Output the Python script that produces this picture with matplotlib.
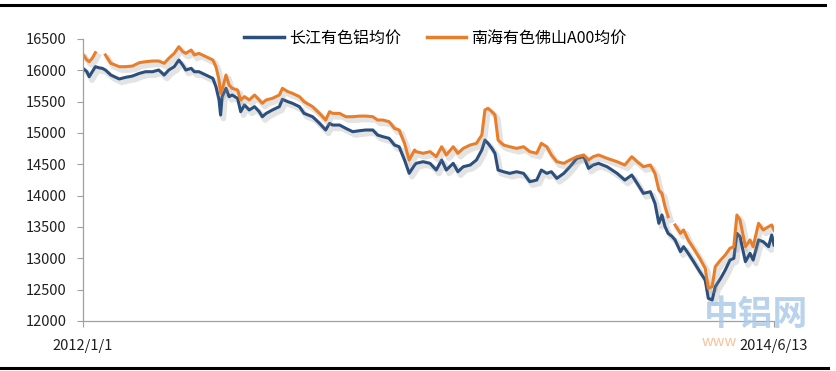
import matplotlib
matplotlib.use("Agg")
import matplotlib.pyplot as plt
import matplotlib.patheffects as pe
from matplotlib.lines import Line2D
import numpy as np
import pandas as pd

plt.rcParams['font.family'] = ['Noto Sans CJK SC', 'DejaVu Sans']

dates = [
    "2012-01-01", "2012-01-06", "2012-01-09", "2012-01-13", "2012-01-17", "2012-01-22", "2012-01-26",
    "2012-01-30", "2012-02-06", "2012-02-17", "2012-02-25", "2012-03-05", "2012-03-14", "2012-03-22",
    "2012-03-31", "2012-04-08", "2012-04-15", "2012-04-21", "2012-04-28", "2012-05-04", "2012-05-09",
    "2012-05-13", "2012-05-20", "2012-05-24", "2012-05-30", "2012-06-08", "2012-06-17", "2012-06-21",
    "2012-06-25", "2012-06-27", "2012-06-29", "2012-07-04", "2012-07-08", "2012-07-12", "2012-07-19",
    "2012-07-23", "2012-07-28", "2012-08-03", "2012-08-10", "2012-08-16", "2012-08-20", "2012-08-25",
    "2012-09-02", "2012-09-11", "2012-09-15", "2012-09-22", "2012-09-28", "2012-10-07", "2012-10-13",
    "2012-10-24", "2012-11-02", "2012-11-10", "2012-11-15", "2012-11-19", "2012-11-28", "2012-12-06",
    "2012-12-15", "2012-12-24", "2013-01-01", "2013-01-10", "2013-01-16", "2013-01-23", "2013-01-31",
    "2013-02-07", "2013-02-13", "2013-02-20", "2013-02-26", "2013-03-05", "2013-03-07", "2013-03-16",
    "2013-03-25", "2013-04-02", "2013-04-09", "2013-04-15", "2013-04-24", "2013-04-30", "2013-05-07",
    "2013-05-16", "2013-05-24", "2013-05-31", "2013-06-04", "2013-06-08", "2013-06-13", "2013-06-17",
    "2013-06-21", "2013-06-28", "2013-07-06", "2013-07-15", "2013-07-24", "2013-08-01", "2013-08-10",
    "2013-08-16", "2013-08-23", "2013-08-29", "2013-09-05", "2013-09-14", "2013-09-22", "2013-10-01",
    "2013-10-10", "2013-10-16", "2013-10-22", "2013-10-29", "2013-11-09", "2013-11-22", "2013-12-02",
    "2013-12-11", "2013-12-18", "2013-12-26", "2014-01-04", "2014-01-10", "2014-01-15", "2014-01-19",
    "2014-01-23", "2014-01-27", "2014-02-01", "2014-02-05", "2014-02-12", "2014-02-16", "2014-02-22",
    "2014-03-01", "2014-03-09", "2014-03-16", "2014-03-20", "2014-03-25", "2014-03-29", "2014-04-05",
    "2014-04-11", "2014-04-17", "2014-04-22", "2014-04-26", "2014-04-30", "2014-05-07", "2014-05-13",
    "2014-05-17", "2014-05-24", "2014-05-30", "2014-06-06", "2014-06-10", "2014-06-13",
]

changjiang = [
    16032, 15978, 15898, 15978, 16058, 16040, 16032,
    16005, 15925, 15862, 15888, 15909, 15952, 15978,
    15978, 16005, 15925, 16005, 16058, 16165, 16085,
    16005, 16032, 15978, 15978, 15925, 15872, 15739,
    15527, 15287, 15580, 15713, 15580, 15606, 15553,
    15340, 15447, 15367, 15420, 15340, 15260, 15313,
    15367, 15420, 15537, 15500, 15474, 15420, 15313,
    15260, 15154, 15048, 15154, 15127, 15127, 15074,
    15021, 15037, 15048, 15048, 14968, 14941, 14915,
    14808, 14781, 14569, 14357, 14489, 14516, 14542,
    14516, 14409, 14569, 14409, 14516, 14382, 14462,
    14489, 14569, 14729, 14888, 14835, 14755, 14676,
    14409, 14382, 14356, 14382, 14356, 14223, 14249,
    14409, 14356, 14382, 14276, 14356, 14462, 14596,
    14622, 14436, 14489, 14516, 14462, 14356, 14249,
    14329, 14196, 14037, 14063, 13878, 13559, 13692,
    13506, 13399, 13350, 13293, 13106, 13186, 13080,
    12947, 12787, 12654, 12362, 12335, 12548, 12681,
    12814, 12973, 13000, 13399, 13346, 12947, 13080,
    12973, 13293, 13266, 13186, 13373, 13213,
]

nanhai = [
    16256, 16165, 16138, 16192, 16282, np.nan, np.nan,
    16245, 16112, 16058, 16058, 16069, 16122, 16138,
    16149, 16149, 16112, 16192, 16271, 16377, 16298,
    16271, 16324, 16245, 16271, 16218, 16165, 16058,
    15846, 15633, 15686, 15925, 15766, 15713, 15686,
    15527, 15580, 15527, 15606, 15527, 15474, 15527,
    15553, 15606, 15713, 15660, 15633, 15580, 15500,
    15420, 15313, 15207, 15340, 15313, 15313, 15260,
    15260, 15270, 15270, 15260, 15207, 15207, 15181,
    15074, 15048, 14835, 14569, 14729, 14702, 14676,
    14702, 14622, 14781, 14649, 14781, 14676, 14755,
    14808, 14835, 14968, 15367, 15394, 15340, 15287,
    14888, 14808, 14781, 14755, 14781, 14702, 14676,
    14835, 14781, 14649, 14542, 14516, 14569, 14622,
    14649, 14569, 14622, 14649, 14596, 14542, 14489,
    14622, 14542, 14462, 14489, 14356, 14090, 14037,
    13824, 13665, np.nan, 13532, 13399, 13452, 13293,
    13160, 13000, 12841, 12522, 12548, 12867, 12974,
    13053, 13160, 13186, 13691, 13612, 13186, 13293,
    13186, 13559, 13452, 13506, 13532, 13452,
]

series_names = ["长江有色铝均价", "南海有色佛山A00均价"]
series_colors = ["#2C4F7C", "#E97E2A"]
x_tick_labels = ["2012/1/1", "2014/6/13"]
y_ticks = [12000, 12500, 13000, 13500, 14000, 14500, 15000, 15500, 16000, 16500]

x = pd.to_datetime(dates)

fig = plt.figure(figsize=(8.37, 3.71), dpi=100)
ax = fig.add_axes([83 / 837, 1 - 321 / 371, (774 - 83) / 837, (321 - 39) / 371])

shadow = [pe.SimpleLineShadow(offset=(2.0, -2.5), shadow_color="#909090", alpha=0.25, linewidth=4),
          pe.Normal()]
for vals, name, col in zip([changjiang, nanhai], series_names, series_colors):
    ax.plot(x, vals, color=col, lw=2.2, label=name, path_effects=shadow, solid_joinstyle="round")

ax.set_ylim(12000, 16500)
ax.set_yticks(y_ticks)
ax.set_yticklabels([str(v) for v in y_ticks], fontsize=10.5, color="#202020")
ax.set_xlim(x[0], x[-1])
ax.set_xticks([x[0], x[-1]])
ax.set_xticklabels(x_tick_labels, fontsize=10.5, color="#202020")
ax.tick_params(axis="y", length=4, width=0.8, color="#A0A0A0", pad=8)
ax.tick_params(axis="x", length=4, width=0.8, color="#A0A0A0", pad=9)
for s in ["top", "right"]:
    ax.spines[s].set_visible(False)
ax.spines["left"].set_color("#A0A0A0")
ax.spines["bottom"].set_color("#A0A0A0")
ax.spines["left"].set_linewidth(0.9)
ax.spines["bottom"].set_linewidth(0.9)

leg = ax.legend(loc="upper center", bbox_to_anchor=(0.51, 1.085), ncol=2, frameon=False,
                fontsize=11.5, handlelength=2.5, handletextpad=0.3, columnspacing=1.6)
for line in leg.get_lines():
    line.set_linewidth(2.5)
    line.set_path_effects([])

# watermark
fig.text(756 / 837, 1 - 314 / 371, "中铝网", fontsize=25, fontweight="bold", color="#A9C8E8",
         alpha=0.8, ha="center", va="center")
fig.text(737 / 837, 1 - 342 / 371, "www", fontsize=10.5, color="#F6C19A", ha="right", va="center")

# frame lines
fig.add_artist(Line2D([0, 825 / 837], [1 - 5 / 371, 1 - 5 / 371], transform=fig.transFigure,
                      color="black", lw=2.2))
fig.add_artist(Line2D([0, 828 / 837], [1 - 368 / 371, 1 - 368 / 371], transform=fig.transFigure,
                      color="black", lw=2.2))

fig.savefig("out.png", dpi=100, facecolor="white")
